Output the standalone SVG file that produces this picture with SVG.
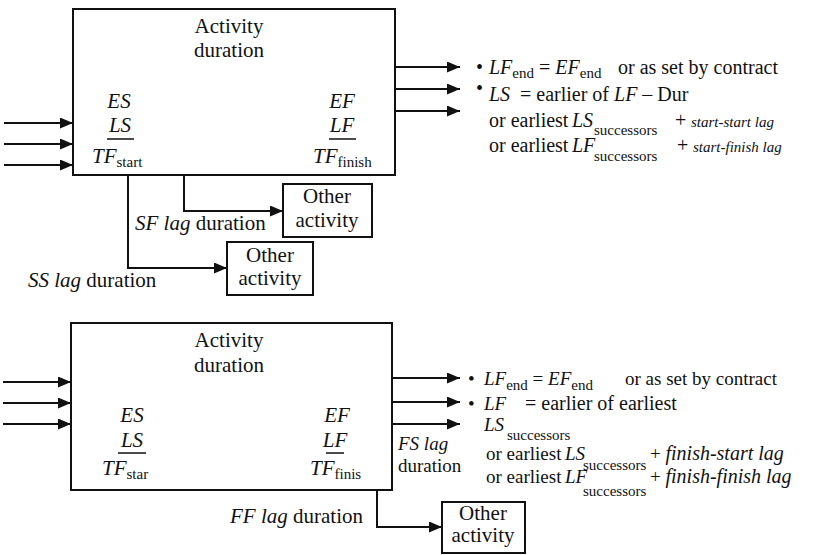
<svg xmlns="http://www.w3.org/2000/svg" width="827" height="555" viewBox="0 0 827 555" font-family="Liberation Serif, Times New Roman, serif">
<defs>
<marker id="ah" markerUnits="userSpaceOnUse" markerWidth="13" markerHeight="11" refX="13" refY="5.5" orient="auto">
<path d="M0,0 L13,5.5 L0,11 z" fill="#111"/>
</marker>
</defs>
<rect width="827" height="555" fill="#fff"/>

<g id="connectors" stroke="#111" stroke-width="2" fill="none" marker-end="url(#ah)">
<line x1="4" y1="123" x2="73" y2="123"/>
<line x1="4" y1="144" x2="73" y2="144"/>
<line x1="4" y1="165" x2="73" y2="165"/>
<line x1="395" y1="67" x2="460" y2="67"/>
<line x1="395" y1="89" x2="460" y2="89"/>
<line x1="395" y1="111" x2="460" y2="111"/>
<polyline points="184,175 184,211 283,211"/>
<polyline points="128,175 128,268 227,268"/>
<line x1="3" y1="382" x2="71" y2="382"/>
<line x1="3" y1="403" x2="71" y2="403"/>
<line x1="3" y1="424" x2="71" y2="424"/>
<line x1="392" y1="378" x2="460" y2="378"/>
<line x1="392" y1="402" x2="460" y2="402"/>
<line x1="392" y1="424" x2="460" y2="424"/>
<polyline points="377,490 377,527 442,527"/>
</g>

<g id="activity1" fill="#111" font-family="Liberation Serif, Times New Roman, serif">
<rect x="73" y="9" width="322" height="166" fill="none" stroke="#111" stroke-width="2"/>
<text font-family="Liberation Serif, Times New Roman, serif" font-size="21" x="229" y="33" text-anchor="middle">Activity</text>
<text font-family="Liberation Serif, Times New Roman, serif" font-size="21" x="229" y="57" text-anchor="middle">duration</text>
<text font-family="Liberation Serif, Times New Roman, serif" font-size="21" font-style="italic" x="119" y="108" text-anchor="middle">ES</text>
<text font-family="Liberation Serif, Times New Roman, serif" font-size="21" font-style="italic" x="120" y="132" text-anchor="middle">LS</text>
<line x1="107" y1="139" x2="134" y2="139" stroke="#111" stroke-width="1.5"/>
<text font-family="Liberation Serif, Times New Roman, serif" font-size="21" x="92" y="163"><tspan font-style="italic">TF</tspan><tspan font-size="15" dy="4">start</tspan></text>
<text font-family="Liberation Serif, Times New Roman, serif" font-size="21" font-style="italic" x="342" y="108" text-anchor="middle">EF</text>
<text font-family="Liberation Serif, Times New Roman, serif" font-size="21" font-style="italic" x="342" y="132" text-anchor="middle">LF</text>
<line x1="329" y1="139" x2="356" y2="139" stroke="#111" stroke-width="1.5"/>
<text font-family="Liberation Serif, Times New Roman, serif" font-size="21" x="313" y="163"><tspan font-style="italic">TF</tspan><tspan font-size="15" dy="4">finish</tspan></text>
</g>

<g id="other1" fill="#111" font-family="Liberation Serif, Times New Roman, serif">
<rect x="283" y="184" width="89" height="53" fill="none" stroke="#111" stroke-width="2"/>
<text font-family="Liberation Serif, Times New Roman, serif" font-size="21" x="327" y="203" text-anchor="middle">Other</text>
<text font-family="Liberation Serif, Times New Roman, serif" font-size="21" x="327" y="227" text-anchor="middle">activity</text>
</g>

<g id="other2" fill="#111" font-family="Liberation Serif, Times New Roman, serif">
<rect x="227" y="242" width="86" height="53" fill="none" stroke="#111" stroke-width="2"/>
<text font-family="Liberation Serif, Times New Roman, serif" font-size="21" x="270" y="262" text-anchor="middle">Other</text>
<text font-family="Liberation Serif, Times New Roman, serif" font-size="21" x="270" y="285" text-anchor="middle">activity</text>
</g>

<g id="labels1" fill="#111" font-family="Liberation Serif, Times New Roman, serif">
<text font-family="Liberation Serif, Times New Roman, serif" font-size="21" x="135" y="230"><tspan font-style="italic">SF lag</tspan> duration</text>
<text font-family="Liberation Serif, Times New Roman, serif" font-size="21" x="28" y="287"><tspan font-style="italic">SS lag</tspan> duration</text>
</g>

<g id="notes1" fill="#111" font-family="Liberation Serif, Times New Roman, serif">
<text font-family="Liberation Serif, Times New Roman, serif" font-size="20" x="476" y="74">•</text>
<text font-family="Liberation Serif, Times New Roman, serif" font-size="20" x="489" y="74"><tspan font-style="italic">LF</tspan><tspan font-size="15" dy="4">end</tspan><tspan dy="-4"> = </tspan><tspan font-style="italic">EF</tspan><tspan font-size="15" dy="4">end</tspan></text>
<text font-family="Liberation Serif, Times New Roman, serif" font-size="20" x="618" y="74">or as set by contract</text>
<text font-family="Liberation Serif, Times New Roman, serif" font-size="20" x="476" y="95">•</text>
<text font-family="Liberation Serif, Times New Roman, serif" font-size="20" font-style="italic" x="489" y="101">LS</text>
<text font-family="Liberation Serif, Times New Roman, serif" font-size="20" x="520" y="101">= earlier of <tspan font-style="italic">LF</tspan> – Dur</text>
<text font-family="Liberation Serif, Times New Roman, serif" font-size="20" x="489" y="127">or earliest</text>
<text font-family="Liberation Serif, Times New Roman, serif" font-size="20" font-style="italic" x="572" y="127">LS</text>
<text font-family="Liberation Serif, Times New Roman, serif" font-size="15" x="594" y="135">successors</text>
<text font-family="Liberation Serif, Times New Roman, serif" font-size="20" x="675" y="127">+</text>
<text font-family="Liberation Serif, Times New Roman, serif" font-size="15" font-style="italic" x="691" y="127">start-start lag</text>
<text font-family="Liberation Serif, Times New Roman, serif" font-size="20" x="489" y="152">or earliest</text>
<text font-family="Liberation Serif, Times New Roman, serif" font-size="20" font-style="italic" x="572" y="152">LF</text>
<text font-family="Liberation Serif, Times New Roman, serif" font-size="15" x="594" y="161">successors</text>
<text font-family="Liberation Serif, Times New Roman, serif" font-size="20" x="677" y="152">+</text>
<text font-family="Liberation Serif, Times New Roman, serif" font-size="15" font-style="italic" x="693" y="152">start-finish lag</text>
</g>

<g id="activity2" fill="#111" font-family="Liberation Serif, Times New Roman, serif">
<rect x="71" y="323" width="321" height="167" fill="none" stroke="#111" stroke-width="2"/>
<text font-family="Liberation Serif, Times New Roman, serif" font-size="21" x="229" y="347" text-anchor="middle">Activity</text>
<text font-family="Liberation Serif, Times New Roman, serif" font-size="21" x="229" y="372" text-anchor="middle">duration</text>
<text font-family="Liberation Serif, Times New Roman, serif" font-size="21" font-style="italic" x="132" y="422" text-anchor="middle">ES</text>
<text font-family="Liberation Serif, Times New Roman, serif" font-size="21" font-style="italic" x="132" y="447" text-anchor="middle">LS</text>
<line x1="118" y1="453" x2="146" y2="453" stroke="#111" stroke-width="1.5"/>
<text font-family="Liberation Serif, Times New Roman, serif" font-size="21" x="102" y="475"><tspan font-style="italic">TF</tspan><tspan font-size="15" dy="4">star</tspan></text>
<text font-family="Liberation Serif, Times New Roman, serif" font-size="21" font-style="italic" x="337" y="422" text-anchor="middle">EF</text>
<text font-family="Liberation Serif, Times New Roman, serif" font-size="21" font-style="italic" x="335" y="447" text-anchor="middle">LF</text>
<line x1="326" y1="453" x2="344" y2="453" stroke="#111" stroke-width="1.5"/>
<text font-family="Liberation Serif, Times New Roman, serif" font-size="21" x="310" y="475"><tspan font-style="italic">TF</tspan><tspan font-size="15" dy="4">finis</tspan></text>
</g>

<g id="other3" fill="#111" font-family="Liberation Serif, Times New Roman, serif">
<rect x="442" y="502" width="83" height="51" fill="none" stroke="#111" stroke-width="2"/>
<text font-family="Liberation Serif, Times New Roman, serif" font-size="21" x="483" y="520" text-anchor="middle">Other</text>
<text font-family="Liberation Serif, Times New Roman, serif" font-size="21" x="483" y="542" text-anchor="middle">activity</text>
</g>

<g id="labels2" fill="#111" font-family="Liberation Serif, Times New Roman, serif">
<text font-family="Liberation Serif, Times New Roman, serif" font-size="21" x="230" y="523"><tspan font-style="italic">FF lag</tspan> duration</text>
<text font-family="Liberation Serif, Times New Roman, serif" font-size="19" font-style="italic" x="398" y="450">FS lag</text>
<text font-family="Liberation Serif, Times New Roman, serif" font-size="19" x="398" y="472">duration</text>
</g>

<g id="notes2" fill="#111" font-family="Liberation Serif, Times New Roman, serif">
<text font-family="Liberation Serif, Times New Roman, serif" font-size="19" x="468" y="385">•</text>
<text font-family="Liberation Serif, Times New Roman, serif" font-size="19" x="484" y="385"><tspan font-style="italic">LF</tspan><tspan font-size="15" dy="5">end</tspan><tspan dy="-5"> = </tspan><tspan font-style="italic">EF</tspan><tspan font-size="15" dy="5">end</tspan></text>
<text font-family="Liberation Serif, Times New Roman, serif" font-size="19" x="625" y="385">or as set by contract</text>
<text font-family="Liberation Serif, Times New Roman, serif" font-size="19" x="468" y="410">•</text>
<text font-family="Liberation Serif, Times New Roman, serif" font-size="19" font-style="italic" x="484" y="410">LF</text>
<text font-family="Liberation Serif, Times New Roman, serif" font-size="20" x="525" y="410">= earlier of earliest</text>
<text font-family="Liberation Serif, Times New Roman, serif" font-size="19" font-style="italic" x="484" y="431">LS</text>
<text font-family="Liberation Serif, Times New Roman, serif" font-size="15" x="507" y="440">successors</text>
<text font-family="Liberation Serif, Times New Roman, serif" font-size="19" x="486" y="460">or earliest</text>
<text font-family="Liberation Serif, Times New Roman, serif" font-size="19" font-style="italic" x="565" y="460">LS</text>
<text font-family="Liberation Serif, Times New Roman, serif" font-size="15" x="583" y="470">successors</text>
<text font-family="Liberation Serif, Times New Roman, serif" font-size="19" x="650" y="460">+ <tspan font-style="italic" font-size="20">finish-start lag</tspan></text>
<text font-family="Liberation Serif, Times New Roman, serif" font-size="19" x="486" y="483">or earliest</text>
<text font-family="Liberation Serif, Times New Roman, serif" font-size="19" font-style="italic" x="565" y="483">LF</text>
<text font-family="Liberation Serif, Times New Roman, serif" font-size="15" x="583" y="496">successors</text>
<text font-family="Liberation Serif, Times New Roman, serif" font-size="19" x="650" y="483">+ <tspan font-style="italic" font-size="20">finish-finish lag</tspan></text>
</g>
</svg>
